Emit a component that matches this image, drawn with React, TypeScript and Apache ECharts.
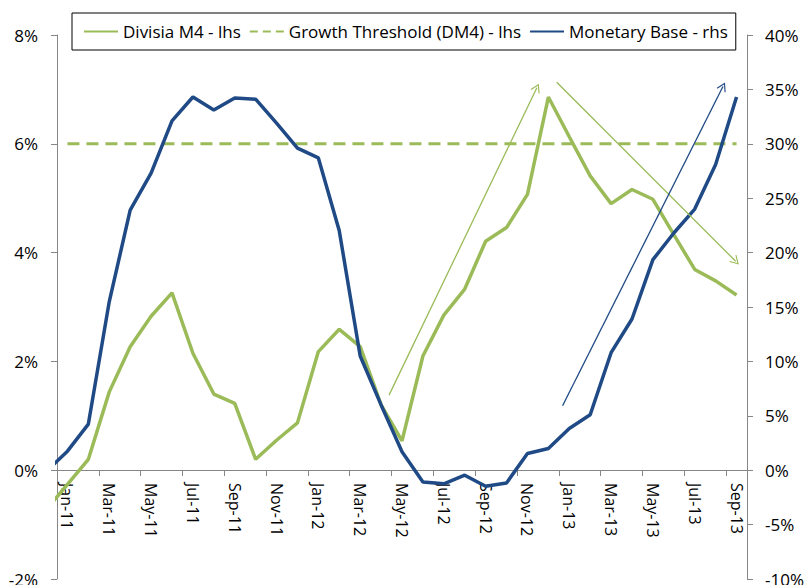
import React, { useEffect, useRef } from "react";
import * as echarts from "echarts";

// Category tick labels (Jan-11 .. Sep-13)
const months: string[] = [
  "Jan-11", "Feb-11", "Mar-11", "Apr-11", "May-11", "Jun-11", "Jul-11", "Aug-11", "Sep-11", "Oct-11", "Nov-11", "Dec-11",
  "Jan-12", "Feb-12", "Mar-12", "Apr-12", "May-12", "Jun-12", "Jul-12", "Aug-12", "Sep-12", "Oct-12", "Nov-12", "Dec-12",
  "Jan-13", "Feb-13", "Mar-13", "Apr-13", "May-13", "Jun-13", "Jul-13", "Aug-13", "Sep-13",
];

// Series values, Dec-10 (partly clipped at the left edge) through Sep-13
const divisiaM4: number[] = [
  -0.72,
  -0.26, 0.2, 1.44, 2.27, 2.83, 3.26, 2.15, 1.4, 1.23, 0.2, 0.55, 0.87,
  2.18, 2.59, 2.27, 1.2, 0.54, 2.1, 2.85, 3.33, 4.21, 4.46, 5.07, 6.86,
  6.13, 5.41, 4.9, 5.16, 4.98, 4.33, 3.69, 3.48, 3.22,
];
const monetaryBase: number[] = [
  -0.1,
  1.75, 4.24, 15.5, 23.9, 27.3, 32.1, 34.3, 33.1, 34.2, 34.1, 31.9, 29.6,
  28.7, 22.0, 10.5, 6.0, 1.7, -1.08, -1.25, -0.46, -1.47, -1.17, 1.54, 2.0,
  3.84, 5.1, 10.8, 13.9, 19.35, 21.8, 24.0, 28.1, 34.3,
];
const growthThreshold: number[] = [6, 6];
const thresholdMonths: number[] = [0, 32];

// Annotation arrows: [startIndex, startValue, endIndex, endValue]
const greenArrows: number[][] = [
  [15.38, 1.38, 22.45, 7.03],
  [23.4, 7.13, 31.96, 3.84],
];
const blueArrows: number[][] = [[23.68, 5.93, 31.35, 35.27]];

const GREEN = "#9BBB59";
const BLUE = "#1F4A85";
const AXIS = "#868686";
const FONT = "Open Sans";
const CHEVRON = "path://M5,0 L10,8.4 L9,9 L5,2.2 L1,9 L0,8.4 Z";

const startIdx = -1; // first value is Dec-10
const toPairs = (vals: number[]) => vals.map((v, i) => [i + startIdx, v]);

const arrowLines = (arr: number[][]) =>
  arr.map((a) => [{ coord: [a[0], a[1]] }, { coord: [a[2], a[3]] }]);

export default function App() {
  const ref = useRef<HTMLDivElement>(null);
  useEffect(() => {
    if (!ref.current) return;
    const chart = echarts.init(ref.current, undefined, { renderer: "svg" });
    chart.setOption({
      animation: false,
      backgroundColor: "#ffffff",
      textStyle: { fontFamily: FONT },
      legend: {
        left: 72,
        top: 13,
        padding: [10, 8, 10, 11],
        itemGap: 8,
        itemWidth: 34,
        itemHeight: 14,
        borderColor: "#000",
        borderWidth: 1,
        borderRadius: 0,
        itemStyle: { opacity: 0 },
        textStyle: { fontSize: 17, color: "#000", fontFamily: FONT },
        data: [
          { name: "Divisia M4 - lhs" },
          { name: "Growth Threshold (DM4) - lhs", lineStyle: { type: [8, 5] } },
          { name: "Monetary Base - rhs" },
        ],
      },
      grid: [
        { left: 57, top: 35, width: 690, height: 544, containLabel: false, outerBoundsMode: "none" },
        // upper half grid whose bottom edge sits on the 0% line, hosting the category axis
        { left: 57, top: 35, width: 690, height: 435, containLabel: false, outerBoundsMode: "none" },
      ],
      xAxis: [
        {
          type: "category",
          gridIndex: 1,
          position: "bottom",
          data: months,
          boundaryGap: true,
          axisLine: { show: true, onZero: false, lineStyle: { color: AXIS, width: 1 } },
          axisTick: { show: true, interval: 1, length: 6, alignWithLabel: false, lineStyle: { color: AXIS } },
          axisLabel: { interval: 1, rotate: -90, margin: 13, fontSize: 16, color: "#000", fontFamily: FONT },
          splitLine: { show: false },
        },
        {
          type: "value",
          gridIndex: 0,
          min: -0.5,
          max: 32.5,
          show: false,
          axisLine: { onZero: false },
          splitLine: { show: false },
        },
      ],
      yAxis: [
        {
          type: "value",
          gridIndex: 0,
          min: -2,
          max: 8,
          interval: 2,
          position: "left",
          axisLine: { show: true, onZero: false, lineStyle: { color: AXIS, width: 1 } },
          axisTick: { show: true, length: 6, lineStyle: { color: AXIS } },
          axisLabel: { formatter: "{value}%", margin: 19, fontSize: 17, color: "#000", fontFamily: FONT },
          splitLine: { show: false },
        },
        {
          type: "value",
          gridIndex: 0,
          min: -10,
          max: 40,
          interval: 5,
          position: "right",
          axisLine: { show: true, onZero: false, lineStyle: { color: AXIS, width: 1 } },
          axisTick: { show: true, length: 6, lineStyle: { color: AXIS } },
          axisLabel: { formatter: "{value}%", margin: 18, fontSize: 17, color: "#000", fontFamily: FONT },
          splitLine: { show: false },
        },
        {
          type: "value",
          gridIndex: 1,
          min: 0,
          max: 1,
          show: false,
          axisLine: { onZero: false },
          splitLine: { show: false },
        },
      ],
      series: [
        {
          name: "Divisia M4 - lhs",
          type: "line",
          xAxisIndex: 1,
          yAxisIndex: 0,
          data: toPairs(divisiaM4),
          showSymbol: false,
          symbol: "none",
          clip: true,
          color: GREEN,
          lineStyle: { color: GREEN, width: 3.5 },
          z: 3,
          markLine: {
            silent: true,
            symbol: ["none", CHEVRON],
            symbolSize: [10, 9],
            label: { show: false },
            lineStyle: { color: GREEN, width: 1.3, type: "solid" },
            data: arrowLines(greenArrows),
          },
        },
        {
          name: "Growth Threshold (DM4) - lhs",
          type: "line",
          xAxisIndex: 1,
          yAxisIndex: 0,
          data: growthThreshold.map((v, i) => [thresholdMonths[i], v]),
          showSymbol: false,
          symbol: "none",
          color: GREEN,
          lineStyle: { color: GREEN, width: 3, type: [12, 7] },
          z: 2,
        },
        {
          name: "Monetary Base - rhs",
          type: "line",
          xAxisIndex: 1,
          yAxisIndex: 1,
          data: toPairs(monetaryBase),
          showSymbol: false,
          symbol: "none",
          clip: true,
          color: BLUE,
          lineStyle: { color: BLUE, width: 3.5 },
          z: 4,
          markLine: {
            silent: true,
            symbol: ["none", CHEVRON],
            symbolSize: [10, 9],
            label: { show: false },
            lineStyle: { color: BLUE, width: 1.3, type: "solid" },
            data: arrowLines(blueArrows),
          },
        },
      ],
    });
    return () => chart.dispose();
  }, []);
  return (
    <div
      ref={ref}
      style={{ position: "fixed", left: 0, top: 0, width: 805, height: 585, background: "#fff" }}
    />
  );
}
